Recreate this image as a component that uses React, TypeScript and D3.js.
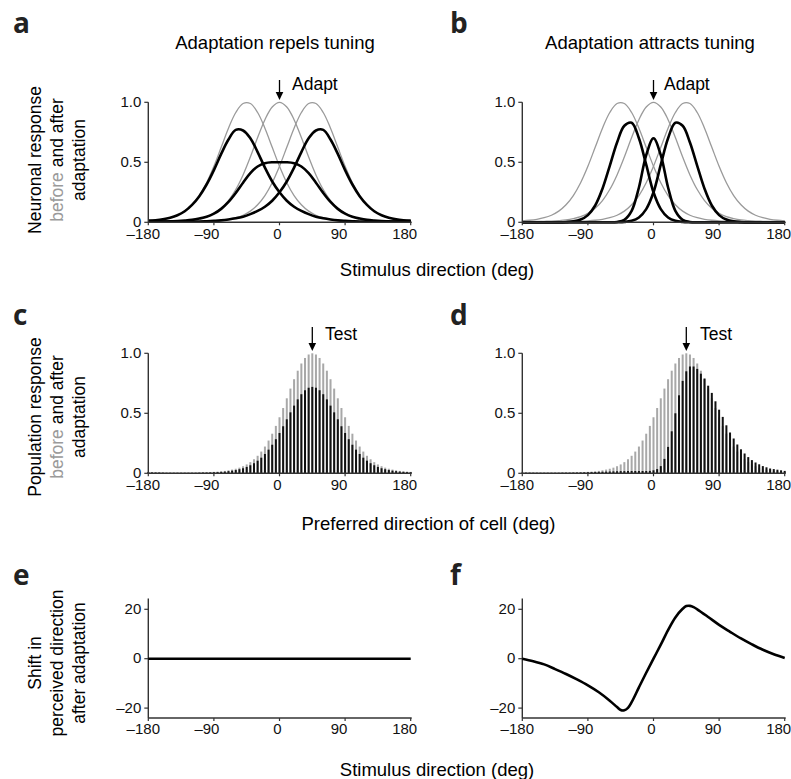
import React from "react";
import * as d3 from "d3";

// ---------- data ----------
const angles10 = d3.range(-180, 181, 10); // stimulus direction grid for tuning curves
const angles5 = d3.range(-180, 181, 5); // preferred directions of cells (bars)
const shiftAngles = [-180, -165, -150, -135, -120, -105, -90, -75, -60, -50, -45, -40, -35, -30, -20, -10, 0, 10, 20, 30, 40, 45, 50, 55, 60, 75, 90, 105, 120, 135, 150, 165, 180];

// tuning curves before adaptation (gray), preferred -45, 0, +45
const grayLeft = [0.012, 0.017, 0.025, 0.038, 0.059, 0.093, 0.146, 0.223, 0.33, 0.467, 0.625, 0.784, 0.915, 0.99, 0.99, 0.915, 0.784, 0.625, 0.467, 0.33, 0.223, 0.146, 0.093, 0.059, 0.038, 0.025, 0.017, 0.012, 0.009, 0.007, 0.006, 0.006, 0.006, 0.006, 0.007, 0.009, 0.012];
const grayMid = [0.006, 0.006, 0.006, 0.008, 0.01, 0.014, 0.02, 0.031, 0.047, 0.074, 0.117, 0.181, 0.273, 0.395, 0.544, 0.706, 0.855, 0.961, 1.0, 0.961, 0.855, 0.706, 0.544, 0.395, 0.273, 0.181, 0.117, 0.074, 0.047, 0.031, 0.02, 0.014, 0.01, 0.008, 0.006, 0.006, 0.006];
const grayRight = [0.012, 0.009, 0.007, 0.006, 0.006, 0.006, 0.006, 0.007, 0.009, 0.012, 0.017, 0.025, 0.038, 0.059, 0.093, 0.146, 0.223, 0.33, 0.467, 0.625, 0.784, 0.915, 0.99, 0.99, 0.915, 0.784, 0.625, 0.467, 0.33, 0.223, 0.146, 0.093, 0.059, 0.038, 0.025, 0.017, 0.012];

// after adaptation, repulsion (panel a)
const repelLeft = [0.012, 0.017, 0.025, 0.038, 0.059, 0.092, 0.145, 0.218, 0.315, 0.435, 0.57, 0.69, 0.77, 0.765, 0.7, 0.585, 0.455, 0.34, 0.25, 0.18, 0.13, 0.095, 0.068, 0.047, 0.033, 0.023, 0.016, 0.012, 0.009, 0.007, 0.006, 0.006, 0.006, 0.006, 0.007, 0.009, 0.012];
const repelMid = [0.006, 0.006, 0.006, 0.008, 0.01, 0.014, 0.02, 0.031, 0.046, 0.072, 0.112, 0.17, 0.245, 0.33, 0.41, 0.465, 0.492, 0.5, 0.5, 0.5, 0.492, 0.465, 0.41, 0.33, 0.245, 0.17, 0.112, 0.072, 0.046, 0.031, 0.02, 0.014, 0.01, 0.008, 0.006, 0.006, 0.006];
const repelRight = [0.012, 0.009, 0.007, 0.006, 0.006, 0.006, 0.006, 0.007, 0.009, 0.012, 0.016, 0.023, 0.033, 0.047, 0.068, 0.095, 0.13, 0.18, 0.25, 0.34, 0.455, 0.585, 0.7, 0.765, 0.77, 0.69, 0.57, 0.435, 0.315, 0.218, 0.145, 0.092, 0.059, 0.038, 0.025, 0.017, 0.012];

// after adaptation, attraction (panel b)
const attractLeft = [0, 0, 0, 0.001, 0.001, 0.001, 0.003, 0.008, 0.023, 0.06, 0.14, 0.28, 0.47, 0.665, 0.805, 0.83, 0.7, 0.48, 0.25, 0.11, 0.04, 0.012, 0.003, 0.001, 0, 0, 0, 0, 0, 0, 0, 0, 0, 0, 0, 0, 0];
const attractMid = [0, 0, 0, 0, 0, 0, 0, 0, 0, 0, 0, 0, 0, 0.003, 0.02, 0.095, 0.29, 0.56, 0.7, 0.56, 0.29, 0.095, 0.02, 0.003, 0, 0, 0, 0, 0, 0, 0, 0, 0, 0, 0, 0, 0];
const attractRight = [0, 0, 0, 0, 0, 0, 0, 0, 0, 0, 0, 0, 0, 0.001, 0.003, 0.012, 0.04, 0.11, 0.25, 0.48, 0.7, 0.83, 0.805, 0.665, 0.47, 0.28, 0.14, 0.06, 0.023, 0.008, 0.003, 0.001, 0.001, 0.001, 0, 0, 0];

// population response to a 45 deg test (bars)
const popBefore = [0.012, 0.01, 0.009, 0.008, 0.007, 0.006, 0.006, 0.006, 0.006, 0.006, 0.006, 0.006, 0.006, 0.006, 0.007, 0.008, 0.009, 0.01, 0.012, 0.014, 0.017, 0.02, 0.025, 0.031, 0.038, 0.047, 0.059, 0.074, 0.093, 0.117, 0.146, 0.181, 0.223, 0.273, 0.33, 0.395, 0.467, 0.544, 0.625, 0.706, 0.784, 0.855, 0.915, 0.961, 0.99, 1.0, 0.99, 0.961, 0.915, 0.855, 0.784, 0.706, 0.625, 0.544, 0.467, 0.395, 0.33, 0.273, 0.223, 0.181, 0.146, 0.117, 0.093, 0.074, 0.059, 0.047, 0.038, 0.031, 0.025, 0.02, 0.017, 0.014, 0.012];
const popRepel = [0.009, 0.007, 0.006, 0.006, 0.005, 0.004, 0.004, 0.004, 0.004, 0.004, 0.004, 0.004, 0.004, 0.004, 0.005, 0.006, 0.006, 0.007, 0.009, 0.01, 0.012, 0.014, 0.018, 0.022, 0.027, 0.034, 0.042, 0.053, 0.067, 0.084, 0.105, 0.13, 0.161, 0.197, 0.238, 0.284, 0.336, 0.392, 0.45, 0.508, 0.564, 0.616, 0.659, 0.692, 0.713, 0.72, 0.713, 0.692, 0.659, 0.616, 0.564, 0.508, 0.45, 0.392, 0.336, 0.284, 0.238, 0.197, 0.161, 0.13, 0.105, 0.084, 0.067, 0.053, 0.042, 0.034, 0.027, 0.022, 0.018, 0.014, 0.012, 0.01, 0.009];
const popAttract = [0.004, 0.004, 0.004, 0.004, 0.004, 0.004, 0.004, 0.004, 0.004, 0.004, 0.004, 0.005, 0.005, 0.005, 0.006, 0.006, 0.007, 0.008, 0.009, 0.01, 0.011, 0.012, 0.013, 0.014, 0.015, 0.016, 0.017, 0.018, 0.018, 0.019, 0.019, 0.019, 0.019, 0.019, 0.019, 0.02, 0.025, 0.035, 0.06, 0.12, 0.22, 0.35, 0.5, 0.65, 0.77, 0.85, 0.89, 0.89, 0.87, 0.83, 0.79, 0.73, 0.67, 0.6, 0.53, 0.47, 0.4, 0.34, 0.29, 0.24, 0.2, 0.165, 0.135, 0.11, 0.09, 0.075, 0.06, 0.05, 0.04, 0.035, 0.03, 0.025, 0.02];

// perceived direction shift
const shiftRepel = shiftAngles.map(() => 0);
const shiftAttract = [0, -1.0, -2.3, -4.2, -6.2, -8.4, -10.8, -13.6, -17.0, -19.6, -20.8, -20.9, -19.9, -17.6, -11.6, -5.7, 0, 5.7, 11.6, 16.7, 20.2, 21.3, 21.4, 20.9, 20.0, 16.9, 13.7, 10.9, 8.2, 5.8, 3.6, 1.8, 0.3];

const xTicks = [-180, -90, 0, 90, 180];
const xTickLabels = ["\u2013180", "\u201390", "0", "90", "180"];
const respTicks = [0, 0.5, 1];
const respTickLabels = ["0", "0.5", "1.0"];
const shiftTicks = [-20, 0, 20];
const shiftTickLabels = ["\u201320", "0", "20"];

// ---------- layout ----------
const FONT = "'Liberation Sans', Arial, Helvetica, sans-serif";
const LETTER_FONT = "'Open Sans', 'DejaVu Sans', sans-serif";
const GRAY = "#9a9a9a";
const AXIS = "#333";
const TICK_FS = 15;
const xLabelNudge = [-5, -7, -2, -6, -6];
const colX = [148.3, 522.3];
const colW = 262.4;

const xLeft = d3.scaleLinear().domain([-180, 180]).range([colX[0], colX[0] + colW]);
const xRight = d3.scaleLinear().domain([-180, 180]).range([colX[1], colX[1] + colW]);
const yRow1 = d3.scaleLinear().domain([0, 1]).range([222.3, 102.3]);
const yRow2 = d3.scaleLinear().domain([0, 1]).range([473.3, 353.3]);
const yRow3 = d3.scaleLinear().domain([-20, 20]).range([708.1, 609.3]);
const row3Domain = [-24, 24.4];

type Sc = d3.ScaleLinear<number, number>;

function Axes({ x, y, yTicks, yLabels, yMin, yMax }: { x: Sc; y: Sc; yTicks: number[]; yLabels: string[]; yMin: number; yMax: number }) {
  const [x0, x1] = x.range();
  const yb = y(yMin);
  return (
    <g>
      <line x1={x0} x2={x0} y1={y(yMax)} y2={yb} stroke={AXIS} strokeWidth={1.4} />
      <line x1={x0} x2={x1 + 1} y1={yb} y2={yb} stroke={AXIS} strokeWidth={1.4} />
      {yTicks.map((t, i) => (
        <g key={"y" + i}>
          <line x1={x0 - 4} x2={x0} y1={y(t)} y2={y(t)} stroke={AXIS} strokeWidth={1.2} />
          <text x={x0 - 7} y={y(t)} dy="0.3em" textAnchor="end" fontSize={TICK_FS} fontFamily={FONT} fill="#111">
            {yLabels[i]}
          </text>
        </g>
      ))}
      {xTicks.map((t, i) => (
        <g key={"x" + i}>
          <line x1={x(t)} x2={x(t)} y1={yb} y2={yb + 3} stroke={AXIS} strokeWidth={1.2} />
          <text x={x(t) + xLabelNudge[i]} y={yb + 16.5} textAnchor="middle" fontSize={TICK_FS} fontFamily={FONT} fill="#111">
            {xTickLabels[i]}
          </text>
        </g>
      ))}
    </g>
  );
}

function Curve({ xs, ys, x, y, color, width }: { xs: number[]; ys: number[]; x: Sc; y: Sc; color: string; width: number }) {
  const gen = d3
    .line<number>()
    .x((_, i) => x(xs[i]))
    .y((v) => y(v))
    .curve(d3.curveCatmullRom.alpha(0.5));
  return <path d={gen(ys) || ""} fill="none" stroke={color} strokeWidth={width} strokeLinejoin="round" />;
}

function Bars({ x, y, before, after }: { x: Sc; y: Sc; before: number[]; after: number[] }) {
  const bw = 2.0;
  const y0 = y(0);
  return (
    <g>
      {angles5.map((a, i) => (
        <rect key={"g" + i} x={x(a) - bw / 2} y={y(before[i])} width={bw} height={y0 - y(before[i])} fill="#a8a8a8" />
      ))}
      {angles5.map((a, i) => (
        <rect key={"b" + i} x={x(a) - bw / 2} y={y(after[i])} width={bw} height={y0 - y(after[i])} fill="#111" />
      ))}
    </g>
  );
}

function Arrow({ x, y1, y2, label, lx, ly }: { x: number; y1: number; y2: number; label: string; lx: number; ly: number }) {
  return (
    <g>
      <line x1={x} x2={x} y1={y1} y2={y2 - 6} stroke="#000" strokeWidth={1.3} />
      <path d={`M${x - 3.8},${y2 - 8}L${x + 3.8},${y2 - 8}L${x},${y2}Z`} fill="#000" />
      <text x={lx} y={ly} fontSize={17.5} fontFamily={FONT} fill="#000">
        {label}
      </text>
    </g>
  );
}

function YLabel({ cy, lines }: { cy: number; lines: React.ReactNode[] }) {
  const xs = [41, 63, 85];
  return (
    <g>
      {lines.map((l, i) => (
        <text key={i} transform={`translate(${xs[i]},${cy}) rotate(-90)`} textAnchor="middle" fontSize={17.5} fontFamily={FONT} fill="#000">
          {l}
        </text>
      ))}
    </g>
  );
}

function Letter({ x, y, t }: { x: number; y: number; t: string }) {
  return (
    <text x={x} y={y} fontSize={28} fontWeight={700} fontFamily={LETTER_FONT} fill="#222">
      {t}
    </text>
  );
}

export default function App() {
  const beforeAfter = (
    <>
      <tspan fill={GRAY}>before</tspan> and after
    </>
  );
  return (
    <svg width={791} height={779} viewBox="0 0 791 779" style={{ position: "absolute", left: 0, top: 0, background: "#fff" }}>
      <rect width={791} height={779} fill="#fff" />
      {/* letters */}
      <Letter x={13} y={33} t="a" />
      <Letter x={450} y={33} t="b" />
      <Letter x={13} y={325} t="c" />
      <Letter x={450} y={325} t="d" />
      <Letter x={13} y={585} t="e" />
      <Letter x={450} y={585} t="f" />

      {/* titles */}
      <text x={275} y={49} textAnchor="middle" fontSize={18.5} fontFamily={FONT}>Adaptation repels tuning</text>
      <text x={650} y={49} textAnchor="middle" fontSize={18.5} fontFamily={FONT}>Adaptation attracts tuning</text>

      {/* y labels */}
      <YLabel cy={160} lines={["Neuronal response", beforeAfter, "adaptation"]} />
      <YLabel cy={417} lines={["Population response", beforeAfter, "adaptation"]} />
      <YLabel cy={663} lines={["Shift in", "perceived direction", "after adaptation"]} />

      {/* x labels */}
      <text x={437} y={276} textAnchor="middle" fontSize={18.5} fontFamily={FONT}>Stimulus direction (deg)</text>
      <text x={428.5} y={530} textAnchor="middle" fontSize={18.5} fontFamily={FONT}>Preferred direction of cell (deg)</text>
      <text x={437} y={776} textAnchor="middle" fontSize={18.5} fontFamily={FONT}>Stimulus direction (deg)</text>

      {/* panel a */}
      {[grayLeft, grayMid, grayRight].map((d, i) => (
        <Curve key={"ga" + i} xs={angles10} ys={d} x={xLeft} y={yRow1} color={GRAY} width={1.3} />
      ))}
      {[repelLeft, repelMid, repelRight].map((d, i) => (
        <Curve key={"ba" + i} xs={angles10} ys={d} x={xLeft} y={yRow1} color="#000" width={2.6} />
      ))}
      <Axes x={xLeft} y={yRow1} yTicks={respTicks} yLabels={respTickLabels} yMin={0} yMax={1} />
      <Arrow x={xLeft(0)} y1={80} y2={100} label="Adapt" lx={292} ly={90} />

      {/* panel b */}
      {[grayLeft, grayMid, grayRight].map((d, i) => (
        <Curve key={"gb" + i} xs={angles10} ys={d} x={xRight} y={yRow1} color={GRAY} width={1.3} />
      ))}
      {[attractLeft, attractMid, attractRight].map((d, i) => (
        <Curve key={"bb" + i} xs={angles10} ys={d} x={xRight} y={yRow1} color="#000" width={2.6} />
      ))}
      <Axes x={xRight} y={yRow1} yTicks={respTicks} yLabels={respTickLabels} yMin={0} yMax={1} />
      <Arrow x={xRight(0)} y1={80} y2={100} label="Adapt" lx={664} ly={90} />

      {/* panel c */}
      <Bars x={xLeft} y={yRow2} before={popBefore} after={popRepel} />
      <Axes x={xLeft} y={yRow2} yTicks={respTicks} yLabels={respTickLabels} yMin={0} yMax={1} />
      <Arrow x={xLeft(45)} y1={327} y2={351} label="Test" lx={325} ly={340} />

      {/* panel d */}
      <Bars x={xRight} y={yRow2} before={popBefore} after={popAttract} />
      <Axes x={xRight} y={yRow2} yTicks={respTicks} yLabels={respTickLabels} yMin={0} yMax={1} />
      <Arrow x={xRight(45)} y1={327} y2={351} label="Test" lx={700} ly={340} />

      {/* panel e */}
      <Axes x={xLeft} y={yRow3} yTicks={shiftTicks} yLabels={shiftTickLabels} yMin={row3Domain[0]} yMax={row3Domain[1]} />
      <Curve xs={shiftAngles} ys={shiftRepel} x={xLeft} y={yRow3} color="#000" width={2.6} />

      {/* panel f */}
      <Axes x={xRight} y={yRow3} yTicks={shiftTicks} yLabels={shiftTickLabels} yMin={row3Domain[0]} yMax={row3Domain[1]} />
      <Curve xs={shiftAngles} ys={shiftAttract} x={xRight} y={yRow3} color="#000" width={2.6} />
    </svg>
  );
}
